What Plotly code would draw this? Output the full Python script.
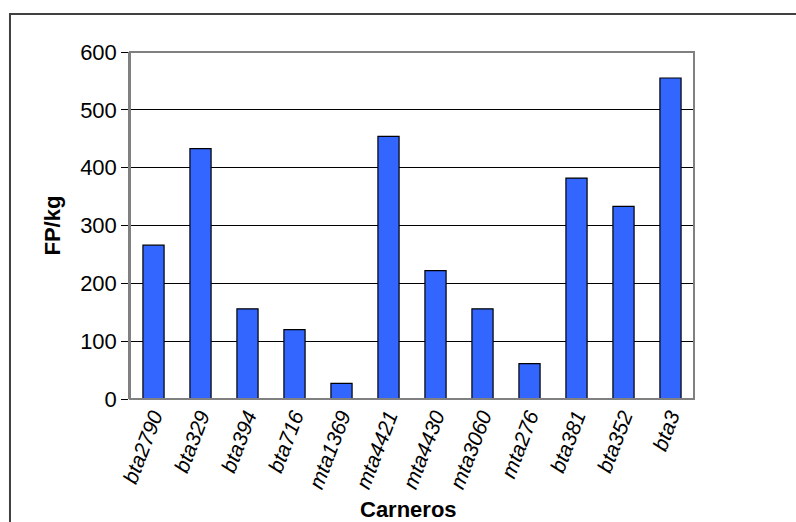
import plotly.graph_objects as go

# Carneros y su valor FP/kg
carneros = ["bta2790", "bta329", "bta394", "bta716", "mta1369", "mta4421",
            "mta4430", "mta3060", "mta276", "bta381", "bta352", "bta3"]
fp_kg = [266, 433, 156, 120, 27, 454, 222, 156, 61, 382, 333, 555]
y_ticks = [0, 100, 200, 300, 400, 500, 600]

FONT = "Liberation Sans, Arial, sans-serif"

fig = go.Figure(
    go.Bar(
        x=carneros,
        y=fp_kg,
        marker=dict(color="#3366FF", line=dict(color="#000000", width=1.2)),
        width=0.45,
    )
)

fig.update_layout(
    width=796,
    height=522,
    margin=dict(l=130, r=102, t=52, b=123),
    paper_bgcolor="white",
    plot_bgcolor="white",
    showlegend=False,
    font=dict(family=FONT, size=21, color="#000000"),
    xaxis=dict(
        tickangle=-69,
        tickfont=dict(family=FONT, size=21, style="italic"),
        showgrid=False,
        showline=False,
        ticks="",
        zeroline=False,
    ),
    yaxis=dict(
        range=[0, 600],
        tickvals=y_ticks,
        ticktext=[str(v) for v in y_ticks],
        ticks="outside",
        ticklen=7,
        tickcolor="#000000",
        showgrid=True,
        gridcolor="#000000",
        gridwidth=1,
        showline=True,
        linecolor="#808080",
        linewidth=1.5,
        zeroline=False,
        tickfont=dict(family=FONT, size=22),
    ),
    shapes=[
        # plot area border
        dict(type="rect", xref="paper", yref="paper", x0=0, x1=1, y0=0, y1=1,
             line=dict(color="#808080", width=2), layer="above"),
        # outer chart frame
        dict(type="rect", xref="paper", yref="paper",
             x0=-0.2128, x1=1.19, y0=-0.38, y1=1.1095,
             line=dict(color="#404040", width=2), layer="above"),
    ],
    annotations=[
        dict(text="<b>FP/kg</b>", xref="paper", yref="paper",
             x=(52 - 130) / 564, y=0.5, textangle=-90, showarrow=False,
             xanchor="center", yanchor="middle",
             font=dict(family=FONT, size=22)),
        dict(text="<b>Carneros</b>", xref="paper", yref="paper",
             x=(408 - 130) / 564, y=(399 - 509) / 347, showarrow=False,
             xanchor="center", yanchor="middle",
             font=dict(family=FONT, size=22)),
    ],
)

fig.write_html("out.html")
